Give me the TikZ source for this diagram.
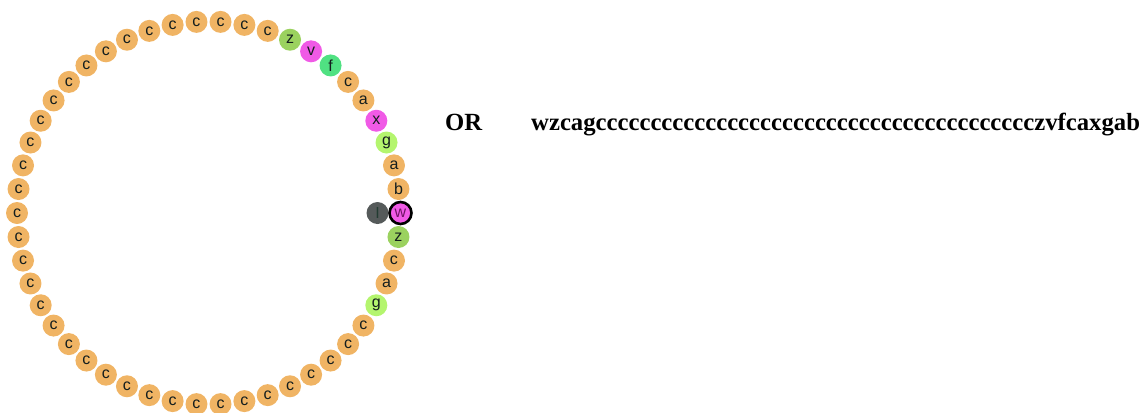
\documentclass[tikz,border=0pt]{standalone}
\usepackage{fontspec}
\setmainfont{Liberation Serif}
\newfontfamily\beadfont{Liberation Sans}
\definecolor{corange}{RGB}{240,180,100}
\definecolor{czgreen}{RGB}{155,210,95}
\definecolor{cmag}{RGB}{240,90,230}
\definecolor{cfgreen}{RGB}{80,225,130}
\definecolor{cggreen}{RGB}{180,245,110}
\definecolor{cgrey}{RGB}{85,90,90}
\tikzset{
  bead/.style={circle, minimum size=22bp, inner sep=0pt, draw=none, font=\beadfont\fontsize{16bp}{16bp}\selectfont, text={rgb,255:red,20;green,30;blue,30}},
  col c/.style={fill=corange},
  col a/.style={fill=corange},
  col b/.style={fill=corange},
  col z/.style={fill=czgreen},
  col v/.style={fill=cmag},
  col x/.style={fill=cmag},
  col w/.style={fill=cmag},
  col f/.style={fill=cfgreen},
  col g/.style={fill=cggreen},
  label txt/.style={anchor=base west, inner sep=0pt, font=\bfseries\fontsize{24.7bp}{24.7bp}\selectfont}
}
\begin{document}
\begin{tikzpicture}[x=1bp,y=-1bp]
\useasboundingbox (0,0) rectangle (1144,412);
\foreach \l [count=\k from 1] in {z,c,a,g,c,c,c,c,c,c,c,c,c,c,c,c,c,c,c,c,c,c,c,c,c,c,c,c,c,c,c,c,c,c,c,c,c,c,c,c,z,v,f,c,a,x,g,a,b}{
  \node[bead, col \l] (b\k) at ({208.5+191.5*cos(\k*7.2)},{213+191.5*sin(\k*7.2)}) {\l};
}
\node[bead, fill=cgrey, text={rgb,255:red,35;green,60;blue,50}] (bI) at (377.5,213) {I};
\node[bead, col w, draw=black, line width=2.6bp, minimum size=22bp, text={rgb,255:red,110;green,20;blue,100}] (b0) at (400.5,213) {w};
\node[label txt] (orlabel) at (445,130) {OR};
\node[label txt] (seq) at (531,130) {wzcagcccccccccccccccccccccccccccccccccccccccczvfcaxgab};
\end{tikzpicture}
\end{document}
